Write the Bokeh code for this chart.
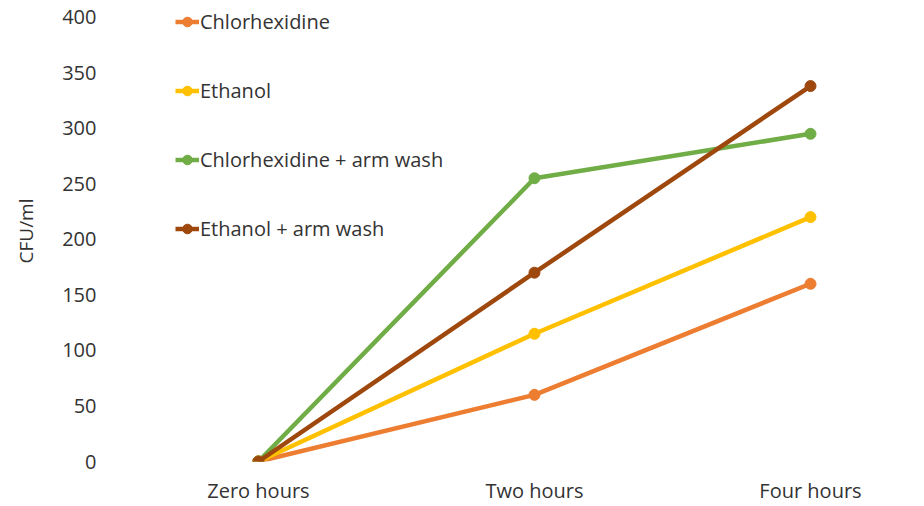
from bokeh.plotting import figure
from bokeh.models import Range1d, FixedTicker, Legend, LegendItem
from bokeh.embed import file_html
from bokeh.resources import INLINE

categories = ["Zero hours", "Two hours", "Four hours"]
chlorhexidine = [0, 60, 160]
ethanol = [0, 115, 220]
chlorhexidine_arm_wash = [0, 255, 295]
ethanol_arm_wash = [0, 170, 338]
y_ticks = [0, 50, 100, 150, 200, 250, 300, 350, 400]

series_names = ["Chlorhexidine", "Ethanol", "Chlorhexidine + arm wash", "Ethanol + arm wash"]
series_values = [chlorhexidine, ethanol, chlorhexidine_arm_wash, ethanol_arm_wash]
colors = ["#ED7D31", "#FFC000", "#70AD47", "#9E480E"]

FONT = "Open Sans"
TEXT = "#333333"

x = list(range(len(categories)))

p = figure(width=924, height=506, output_backend="svg", toolbar_location=None,
           x_range=Range1d(-0.507, 2.413), y_range=Range1d(0, 415),
           min_border_left=118, min_border_right=0, min_border_top=0, min_border_bottom=44)
p.outline_line_color = None
p.background_fill_color = "white"
p.border_fill_color = "white"

items = []
for name, vals, c in zip(series_names, series_values, colors):
    r1 = p.line(x, vals, line_color=c, line_width=4.5)
    r2 = p.scatter(x, vals, size=11, fill_color=c, line_color=c)
    items.append(LegendItem(label=name, renderers=[r1, r2]))

legend = Legend(items=items, location=(57, 219))
legend.border_line_alpha = 0
legend.background_fill_alpha = 0
legend.padding = 0
legend.margin = 0
legend.glyph_width = 24
legend.glyph_height = 27
legend.label_height = 27
legend.label_standoff = 1
legend.spacing = 42
legend.label_text_font = FONT
legend.label_text_font_size = "20px"
legend.label_text_color = TEXT
p.add_layout(legend, "center")

# axes
p.xaxis.ticker = FixedTicker(ticks=x)
p.xaxis.major_label_overrides = {i: c for i, c in enumerate(categories)}
p.yaxis.ticker = FixedTicker(ticks=y_ticks)
for ax in (p.xaxis[0], p.yaxis[0]):
    ax.axis_line_color = None
    ax.major_tick_line_color = None
    ax.minor_tick_line_color = None
    ax.major_label_text_font = FONT
    ax.major_label_text_font_size = "20px"
    ax.major_label_text_color = TEXT
p.xaxis.major_label_standoff = 9
p.yaxis.major_label_standoff = 16
p.yaxis.axis_label = "CFU/ml"
p.yaxis.axis_label_text_font = FONT
p.yaxis.axis_label_text_font_size = "19px"
p.yaxis.axis_label_text_font_style = "normal"
p.yaxis.axis_label_text_color = TEXT
p.yaxis.axis_label_standoff = 20

p.xgrid.grid_line_color = None
p.ygrid.ticker = FixedTicker(ticks=[0])
p.ygrid.grid_line_color = "#D9D9D9"
p.ygrid.grid_line_width = 1.5

open("out.html", "w").write(file_html(p, INLINE))
